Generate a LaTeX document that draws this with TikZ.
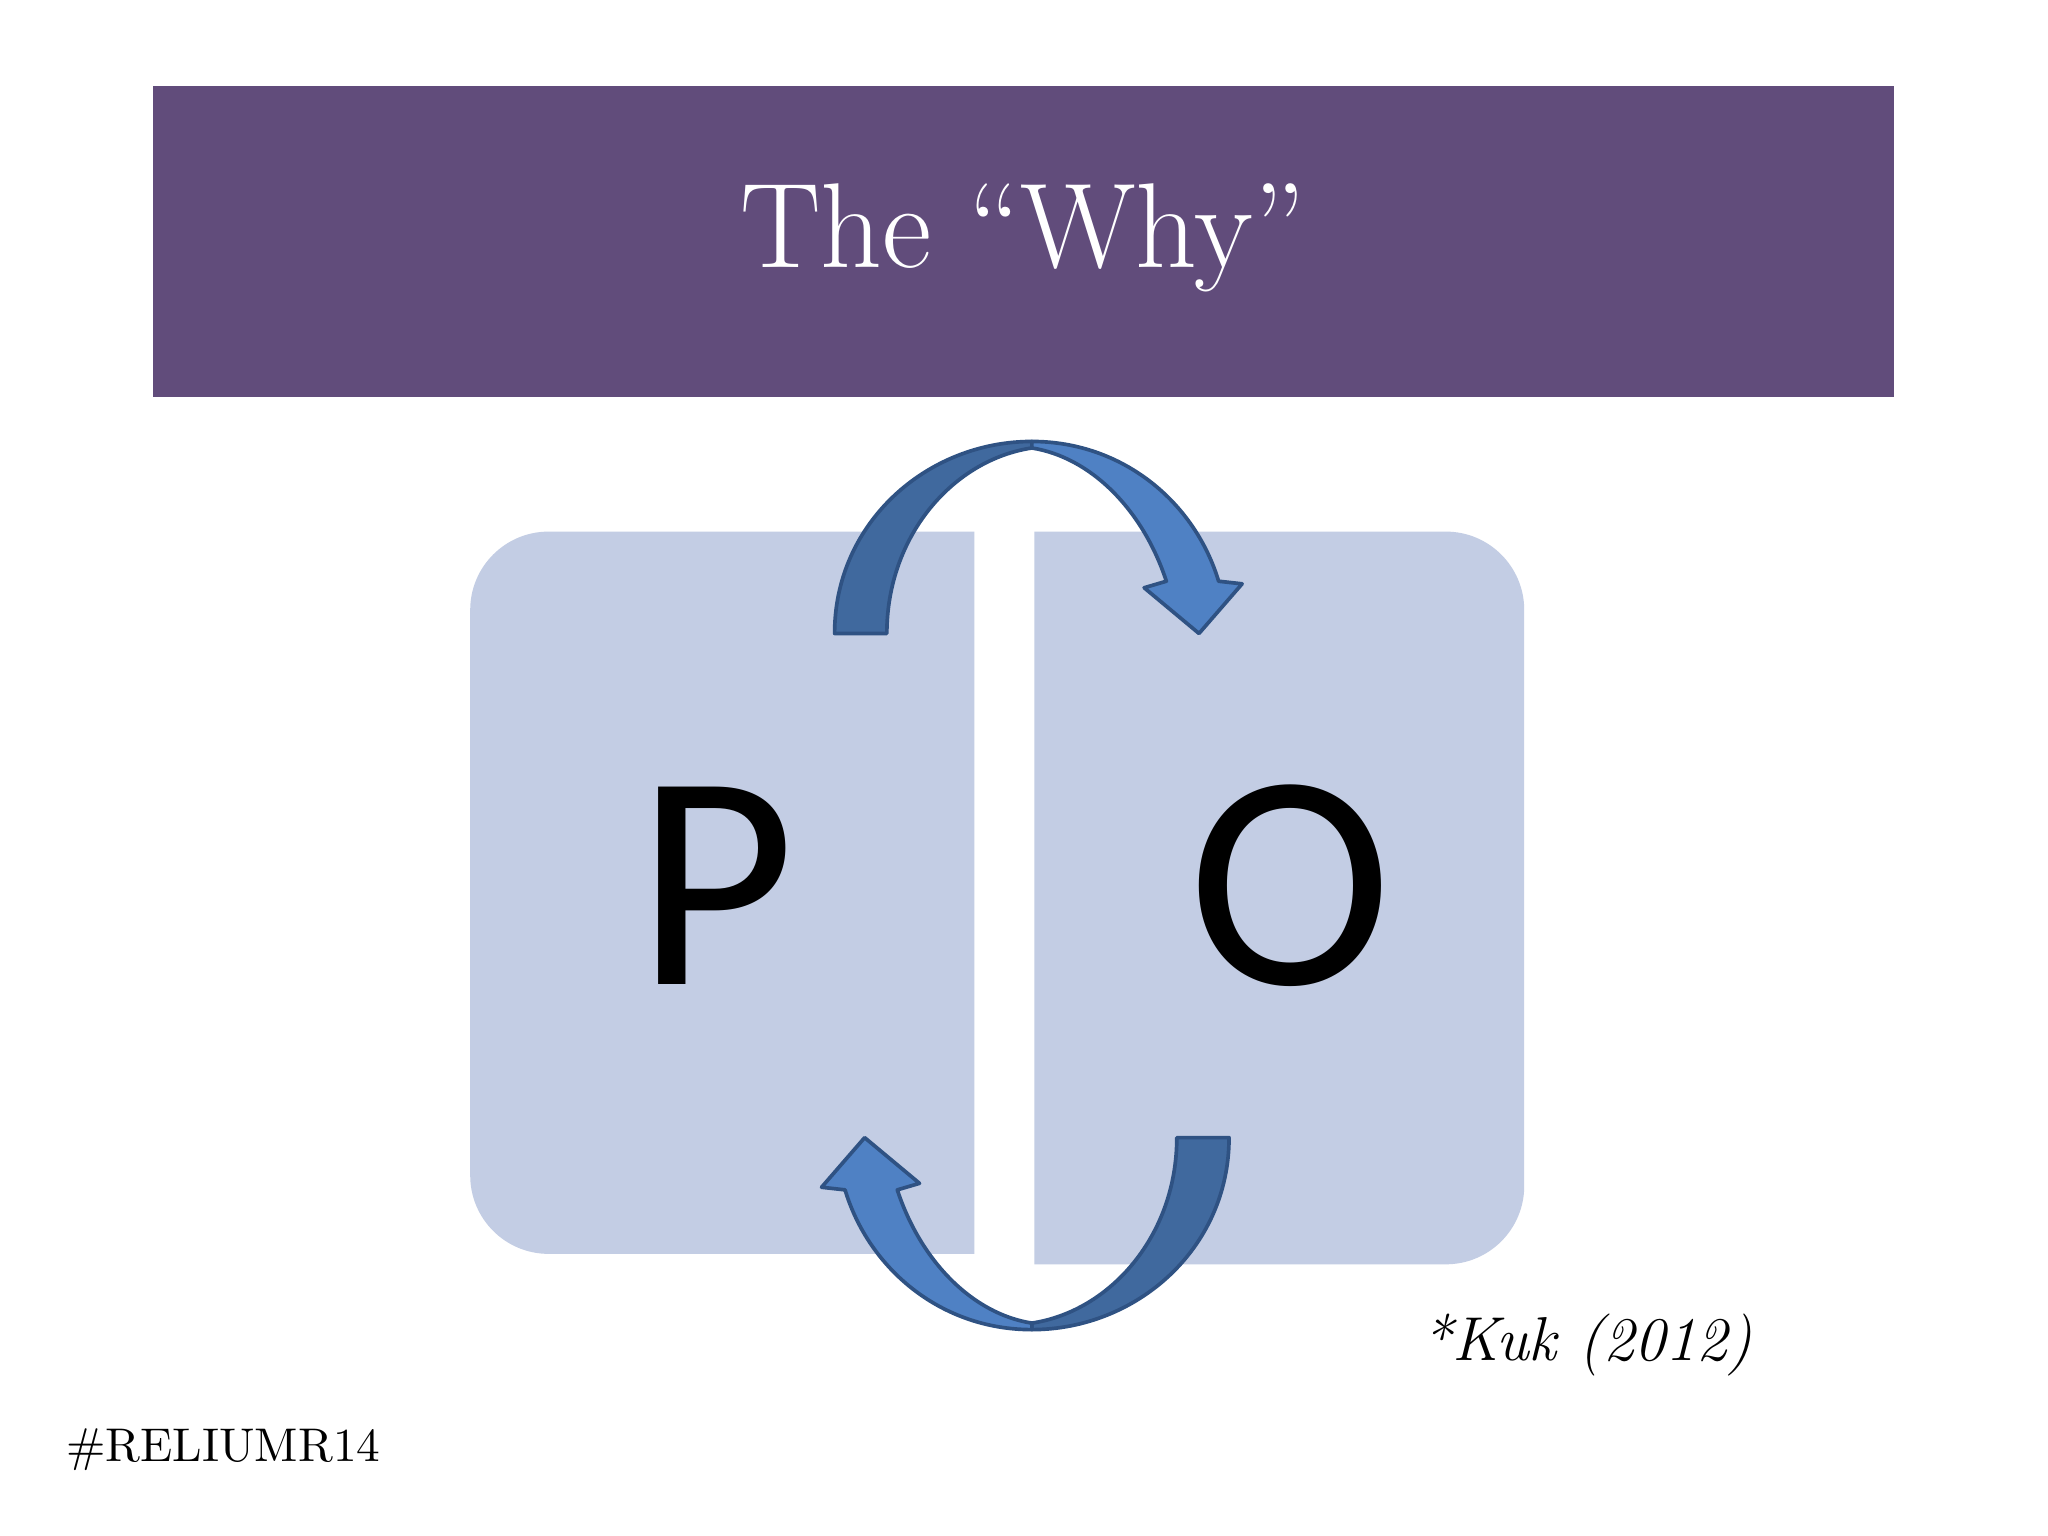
\documentclass[tikz,border=0pt]{standalone}
\usepackage{fontspec}
\newfontfamily\carlitofont{Carlito}
\definecolor{banner}{HTML}{614C7B}
\definecolor{boxc}{HTML}{C3CDE4}
\definecolor{arrdark}{HTML}{40699E}
\definecolor{arrlight}{HTML}{4F81C4}
\definecolor{arrline}{HTML}{2F5283}
\tikzset{darkpart/.style={fill=arrdark,draw=arrline,line width=0.8pt,line join=round},
 lightpart/.style={fill=arrlight,draw=arrline,line width=0.8pt,line join=round}}
\begin{document}
\begin{tikzpicture}[x=0.01cm,y=-0.01cm]
\useasboundingbox[fill=white] (0,0) rectangle (1568,1176);
\fill[banner] (117,66) rectangle (1450,304);
\node[text=white,font=\fontsize{26.3}{30}\selectfont] (title) at (783,182) {The “Why”};
\fill[boxc] (746,407) {[rounded corners=0.6cm] -- (360,407) -- (360,960)} -- (746,960) -- cycle;
\fill[boxc] (792,407) {[rounded corners=0.6cm] -- (1167,407) -- (1167,968)} -- (792,968) -- cycle;
\node[font=\carlitofont\fontsize{67}{72}\selectfont] (P) at (548,678) {P};
\node[font=\carlitofont\fontsize{67}{72}\selectfont] (O) at (988,678) {O};
\foreach \r in {0,180}{
\begin{scope}[rotate around={\r:(790,678)}]
\path[darkpart] (639,485) .. controls (639,400) and (710,338) .. (790,338)
  -- (790,343) .. controls (730,352) and (679,410) .. (679,485) -- cycle;
\path[lightpart] (790,338) .. controls (860,338) and (915,385) .. (933,445) -- (951,447) -- (918,485) -- (876,450) -- (893,445) .. controls (875,390) and (835,350) .. (790,343) -- cycle;
\end{scope}}
\node[font=\itshape\fontsize{13.5}{16}\selectfont] (kuk) at (1215,1030) {*Kuk (2012)};
\node[font=\fontsize{10.3}{12}\selectfont] (tag) at (171,1110) {\#RELIUMR14};
\end{tikzpicture}
\end{document}
